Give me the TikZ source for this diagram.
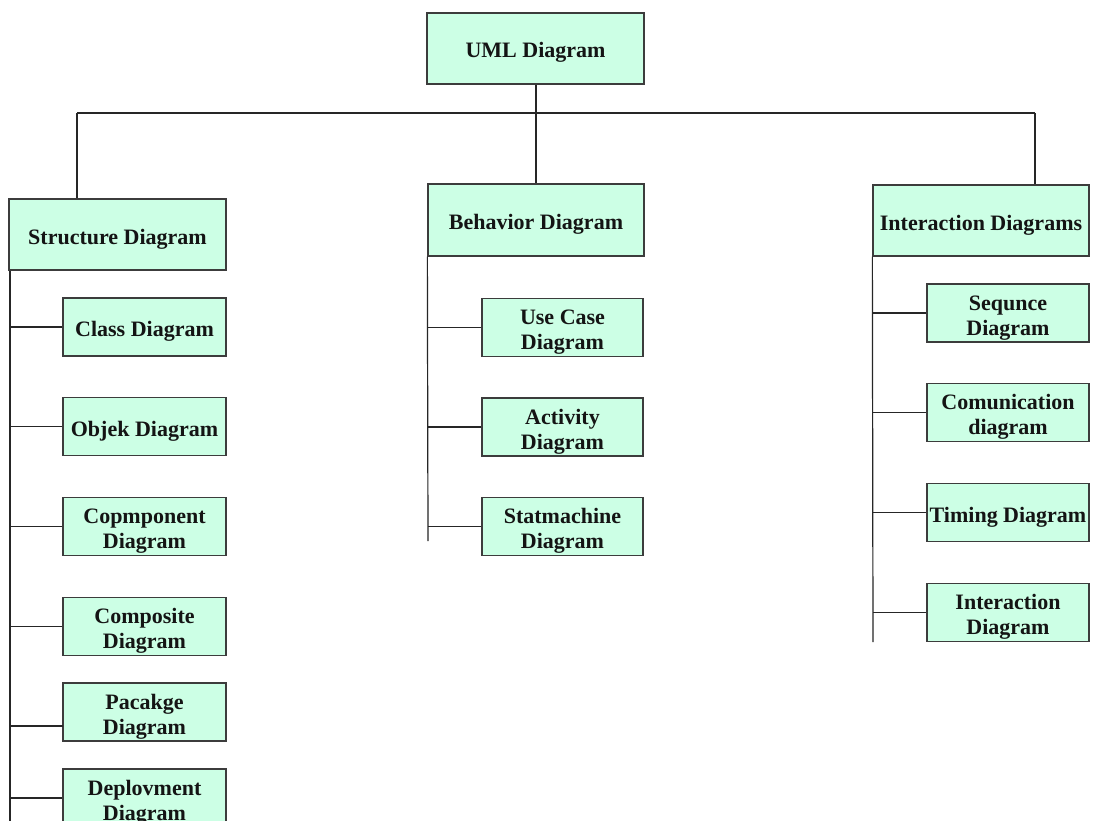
\documentclass[tikz,border=0pt]{standalone}
\usepackage{fontspec}
\setmainfont{Liberation Serif}
\definecolor{boxfill}{RGB}{204,255,229}
\definecolor{boxline}{RGB}{60,60,60}
\definecolor{txt}{RGB}{20,20,20}
\newcommand{\boxtext}[1]{\raisebox{-4.5pt}[\height][\depth]{\begin{tabular}{@{}c@{}}#1\end{tabular}}}
\begin{document}
\begin{tikzpicture}[x=1pt,y=-1pt,
  box/.style={draw=boxline, fill=boxfill, line width=1.3pt, inner sep=0pt,
    align=center, text=txt, font=\fontsize{22}{25}\selectfont\bfseries},
  parent/.style={box, minimum width=217, minimum height=71},
  lchild/.style={box, minimum width=163, minimum height=58},
  mchild/.style={box, minimum width=161, minimum height=58},
  rchild/.style={box, minimum width=162, minimum height=58},
  link/.style={draw=black!85, line width=1.2pt}]
\useasboundingbox (0,0) rectangle (1095,821);
\clip (0,0) rectangle (1095,821);
\fill[white] (0,0) rectangle (1095,821);

% top level
\node[parent] (uml) at (535.5,48.5) {\boxtext{UML Diagram}};
\node[parent] (str) at (117.5,234.5) {\boxtext{Structure Diagram}};
\node[parent, minimum width=216, minimum height=72] (beh) at (536,220) {\boxtext{Behavior Diagram}};
\node[parent, minimum width=216] (int) at (981,220.5) {\boxtext{Interaction Diagrams}};

% structure children
\node[lchild] (cls) at (144.5,327) {\boxtext{Class Diagram}};
\node[lchild] (obj) at (144.5,426.5) {\boxtext{Objek Diagram}};
\node[lchild] (cmp) at (144.5,526.5) {\boxtext{Copmponent\\Diagram}};
\node[lchild] (cps) at (144.5,626.5) {\boxtext{Composite\\Diagram}};
\node[lchild] (pkg) at (144.5,712) {\boxtext{Pacakge\\Diagram}};
\node[lchild] (dep) at (144.5,798) {\boxtext{Deplovment\\Diagram}};

% behavior children
\node[mchild] (use) at (562.5,327.5) {\boxtext{Use Case\\Diagram}};
\node[mchild] (act) at (562.5,427) {\boxtext{Activity\\Diagram}};
\node[mchild] (stm) at (562.5,526.5) {\boxtext{Statmachine\\Diagram}};

% interaction children
\node[rchild] (seq) at (1008,313) {\boxtext{Sequnce\\Diagram}};
\node[rchild] (com) at (1008,412.5) {\boxtext{Comunication\\diagram}};
\node[rchild] (tim) at (1008,512.5) {\boxtext{Timing Diagram}};
\node[rchild] (itd) at (1008,612.5) {\boxtext{Interaction\\Diagram}};

% coordinates
\coordinate (hl) at (77,113);
\coordinate (hr) at (1035,113);
\coordinate (sEnd) at (10,821);
\coordinate (bEnd) at (428,541);
\coordinate (iEnd) at (873,642);
\coordinate (pkgIn) at (63,726);

% top connectors
\draw[link] (uml.south -| beh.north) -- (beh.north);
\draw[link] (hl) -- (hr);
\draw[link] (hl) -- (hl |- str.north);
\draw[link] (hr) -- (hr |- int.north);

% spines
\draw[link] (sEnd |- str.south) -- (sEnd);
\draw[link] (beh.south west) -- (bEnd);
\draw[link] (int.south west) -- (iEnd);

% structure branches
\foreach \c in {cls,obj,cmp,cps,dep}
  \draw[link] (sEnd |- \c.west) -- (\c.west);
\draw[link] (sEnd |- pkgIn) -- (pkgIn);

% behavior branches
\foreach \c in {use,act,stm}
  \draw[link] (bEnd |- \c.west) -- (\c.west);

% interaction branches
\foreach \c in {seq,com,tim,itd}
  \draw[link] (iEnd |- \c.west) -- (\c.west);
\end{tikzpicture}
\end{document}
